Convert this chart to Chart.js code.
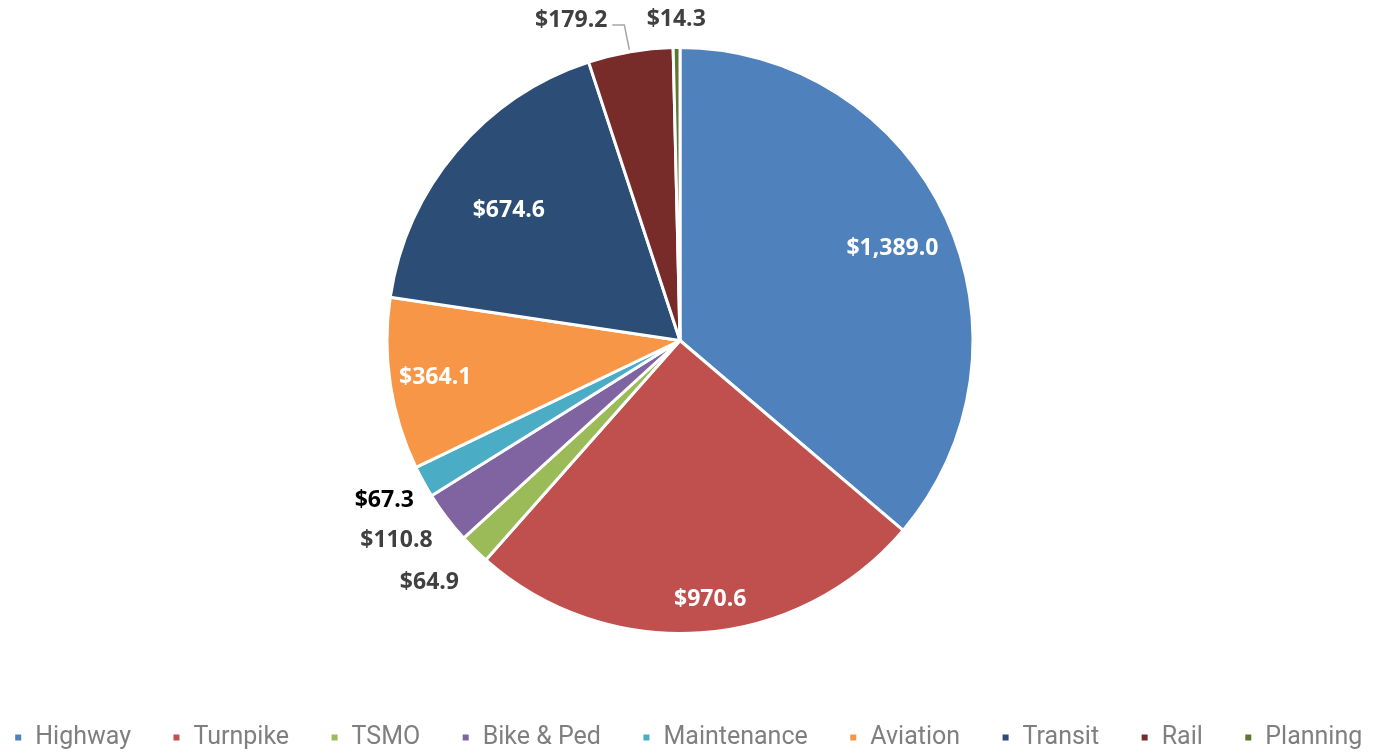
<!DOCTYPE html>
<html lang="en">
<head>
<meta charset="UTF-8">
<title>Program Funding</title>
<script src="https://cdn.jsdelivr.net/npm/chart.js@4.4.1/dist/chart.umd.min.js"></script>
<style>
  html, body { margin: 0; padding: 0; background: #fff; }
  #wrap { width: 1376px; height: 753px; }
</style>
</head>
<body>
<div id="wrap"><canvas id="pie" width="1376" height="753"></canvas></div>
<script>
// data ($ millions)
const categories = ["Highway", "Turnpike", "TSMO", "Bike & Ped", "Maintenance", "Aviation", "Transit", "Rail", "Planning"];
const amounts = [1389.0, 970.6, 64.9, 110.8, 67.3, 364.1, 674.6, 179.2, 14.3];
const sliceColors = ["#4F81BD", "#C0504D", "#9BBB59", "#8064A2", "#4BACC6", "#F79646", "#2C4D75", "#772C2A", "#5F7530"];

// where each value label goes: inside (radius fraction) or outside (px beyond the edge),
// da = small turn in degrees away from the slice middle
const labelSpots = [
  { inside: true, r: 0.79, da: 1.4 },
  { inside: true, r: 0.89, da: -2.6 },
  { inside: false, gap: 55, da: 1.5, color: "#404040" },
  { inside: false, gap: 54, da: 2, color: "#404040" },
  { inside: false, gap: 43, da: 0.5, color: "#000000" },
  { inside: true, r: 0.845, da: 0 },
  { inside: true, r: 0.733, da: -3 },
  { inside: false, leader: true, color: "#404040" },
  { inside: false, gap: 28, da: 0, color: "#404040" }
];

function money(v) {
  return "$" + v.toLocaleString("en-US", { minimumFractionDigits: 1, maximumFractionDigits: 1 });
}

const valueLabels = {
  id: "valueLabels",
  afterDatasetsDraw(chart) {
    const ctx = chart.ctx;
    const meta = chart.getDatasetMeta(0);
    ctx.save();
    ctx.font = "bold 23px 'Open Sans', 'Noto Sans', sans-serif";
    ctx.textBaseline = "middle";
    meta.data.forEach((arc, i) => {
      const p = arc.getProps(["x", "y", "startAngle", "endAngle", "outerRadius"], true);
      const spot = labelSpots[i];
      const mid = (p.startAngle + p.endAngle) / 2 + (spot.da || 0) * Math.PI / 180;
      const text = money(amounts[i]);
      let lx, ly;
      ctx.textAlign = "center";
      if (spot.inside) {
        lx = p.x + Math.cos(mid) * p.outerRadius * spot.r;
        ly = p.y + Math.sin(mid) * p.outerRadius * spot.r;
        ctx.fillStyle = "#ffffff";
      } else if (spot.leader) {
        const ex = p.x + Math.cos(mid) * p.outerRadius;
        const ey = p.y + Math.sin(mid) * p.outerRadius;
        ctx.strokeStyle = "#A6A6A6";
        ctx.lineWidth = 1.5;
        ctx.beginPath();
        ctx.moveTo(ex - 1, ey - 2);
        ctx.lineTo(ex - 6, 25);
        ctx.lineTo(ex - 18, 25);
        ctx.stroke();
        ctx.textAlign = "right";
        lx = ex - 23;
        ly = 20;
        ctx.fillStyle = spot.color;
      } else {
        const d = p.outerRadius + spot.gap;
        lx = p.x + Math.cos(mid) * d;
        ly = p.y + Math.sin(mid) * d;
        ctx.fillStyle = spot.color;
      }
      ctx.fillText(text, lx, ly);
    });
    ctx.restore();
  }
};

// the pie sits 8px left of the page centre while the legend stays centred
const nudgePie = {
  id: "nudgePie",
  afterLayout(chart) {
    chart.chartArea.left -= 8;
    chart.chartArea.right -= 8;
  }
};

new Chart(document.getElementById("pie"), {
  type: "pie",
  data: {
    labels: categories,
    datasets: [{
      data: amounts,
      backgroundColor: sliceColors,
      borderColor: "#ffffff",
      borderWidth: 3
    }]
  },
  options: {
    responsive: false,
    animation: false,
    radius: 293,
    layout: { padding: { top: 46, bottom: -7, left: 0, right: 0 } },
    plugins: {
      tooltip: { enabled: false },
      legend: {
        position: "bottom",
        // empty title only pushes the legend row down to the bottom edge
        title: { display: true, text: " ", font: { size: 10, lineHeight: 1 }, padding: { top: 70, bottom: 0 } },
        labels: {
          boxWidth: 9,
          boxHeight: 9,
          padding: 10,
          color: "#7F7F7F",
          font: { family: "Roboto, 'Noto Sans', sans-serif", size: 25 },
          generateLabels(chart) {
            const items = Chart.overrides.pie.plugins.legend.labels.generateLabels(chart);
            // trailing spaces give the wide gaps between entries
            items.forEach((it, i) => { if (i < items.length - 1) it.text += "     "; });
            return items;
          }
        }
      }
    }
  },
  plugins: [valueLabels, nudgePie]
});
</script>
</body>
</html>
